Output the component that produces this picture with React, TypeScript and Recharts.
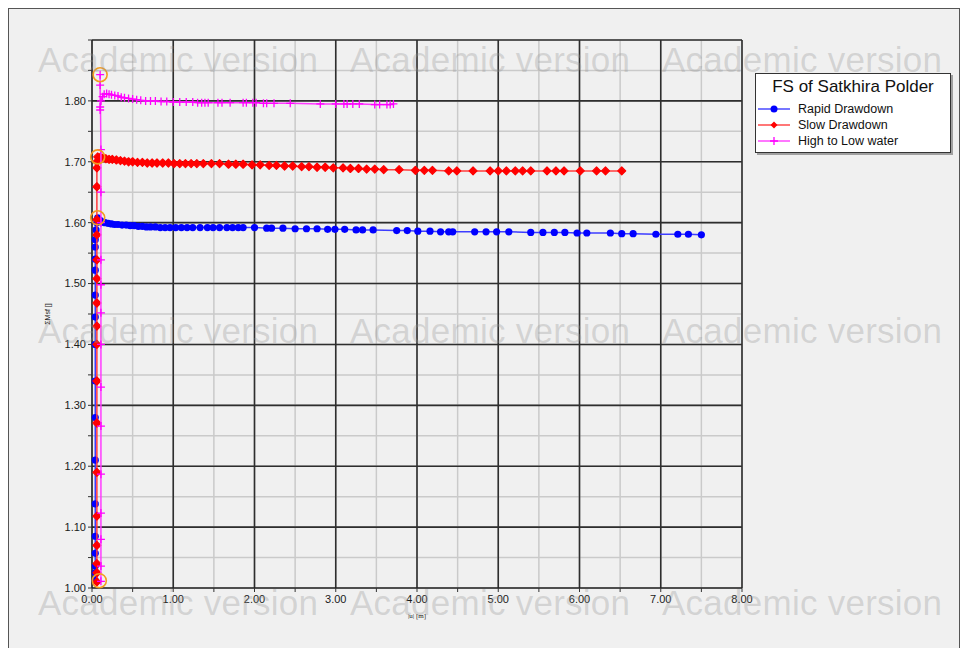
import {
  ScatterChart,
  Scatter,
  XAxis,
  YAxis,
  CartesianGrid,
  ReferenceLine,
} from "recharts";

// [|u| in m, ΣMsf] per calculation step
const rapidDrawdown: [number, number][] = [
  [0.04, 1.012], [0.04, 1.025], [0.04, 1.036], [0.04, 1.057], [0.04, 1.085],
  [0.04, 1.138], [0.04, 1.21], [0.04, 1.28], [0.04, 1.34], [0.04, 1.4],
  [0.04, 1.445], [0.04, 1.481], [0.04, 1.522], [0.04, 1.54], [0.04, 1.56],
  [0.04, 1.572], [0.05, 1.588], [0.06, 1.6], [0.07, 1.608], [0.1, 1.604],
  [0.13, 1.601], [0.16, 1.6], [0.2, 1.599], [0.24, 1.598], [0.28, 1.597],
  [0.32, 1.597], [0.37, 1.596], [0.42, 1.596], [0.47, 1.595], [0.52, 1.595],
  [0.57, 1.594], [0.62, 1.594], [0.67, 1.593], [0.72, 1.593], [0.78, 1.593],
  [0.84, 1.592], [0.9, 1.592], [0.96, 1.592], [1.03, 1.592], [1.1, 1.592],
  [1.17, 1.592], [1.24, 1.592], [1.33, 1.592], [1.42, 1.592], [1.49, 1.592],
  [1.57, 1.592], [1.66, 1.592], [1.73, 1.592], [1.8, 1.592], [1.86, 1.592],
  [2.0, 1.592], [2.15, 1.591], [2.21, 1.591], [2.35, 1.591], [2.5, 1.59],
  [2.64, 1.59], [2.77, 1.59], [2.9, 1.589], [2.99, 1.589], [3.11, 1.589],
  [3.25, 1.588], [3.33, 1.588], [3.46, 1.588], [3.75, 1.587], [3.88, 1.587],
  [4.01, 1.586], [4.16, 1.586], [4.29, 1.585], [4.39, 1.585], [4.44, 1.585],
  [4.71, 1.585], [4.85, 1.585], [4.98, 1.585], [5.13, 1.585], [5.4, 1.584],
  [5.55, 1.584], [5.69, 1.584], [5.82, 1.584], [5.97, 1.583], [6.09, 1.583],
  [6.38, 1.583], [6.52, 1.582], [6.66, 1.582], [6.94, 1.581], [7.21, 1.581],
  [7.34, 1.581], [7.5, 1.58],
];

const slowDrawdown: [number, number][] = [
  [0.06, 1.01], [0.06, 1.025], [0.06, 1.04], [0.06, 1.07], [0.06, 1.118],
  [0.06, 1.19], [0.06, 1.271], [0.06, 1.34], [0.06, 1.4], [0.06, 1.43],
  [0.06, 1.468], [0.06, 1.508], [0.06, 1.539], [0.06, 1.58], [0.06, 1.605],
  [0.06, 1.659], [0.06, 1.69], [0.06, 1.7], [0.07, 1.708], [0.1, 1.707],
  [0.13, 1.706], [0.17, 1.705], [0.21, 1.704], [0.25, 1.704], [0.3, 1.703],
  [0.35, 1.702], [0.4, 1.701], [0.45, 1.7], [0.5, 1.7], [0.56, 1.699],
  [0.62, 1.699], [0.68, 1.698], [0.74, 1.698], [0.8, 1.698], [0.87, 1.698],
  [0.94, 1.698], [1.01, 1.697], [1.08, 1.697], [1.15, 1.697], [1.22, 1.697],
  [1.29, 1.697], [1.37, 1.697], [1.47, 1.697], [1.57, 1.697], [1.68, 1.696],
  [1.77, 1.696], [1.86, 1.696], [1.97, 1.695], [2.07, 1.695], [2.18, 1.694],
  [2.27, 1.694], [2.37, 1.693], [2.47, 1.693], [2.58, 1.692], [2.67, 1.692],
  [2.77, 1.691], [2.87, 1.691], [2.97, 1.69], [3.09, 1.69], [3.18, 1.689],
  [3.28, 1.689], [3.38, 1.688], [3.48, 1.688], [3.59, 1.687], [3.78, 1.687],
  [3.98, 1.686], [4.09, 1.686], [4.19, 1.686], [4.39, 1.685], [4.49, 1.685],
  [4.69, 1.685], [4.9, 1.685], [5.0, 1.685], [5.1, 1.685], [5.21, 1.685],
  [5.3, 1.685], [5.4, 1.685], [5.6, 1.685], [5.71, 1.685], [5.81, 1.685],
  [6.01, 1.685], [6.21, 1.685], [6.32, 1.685], [6.52, 1.685],
];

const highToLow: [number, number][] = [
  [0.11, 1.011], [0.11, 1.036], [0.11, 1.08], [0.11, 1.123], [0.11, 1.187],
  [0.11, 1.266], [0.11, 1.33], [0.11, 1.4], [0.11, 1.452], [0.11, 1.498],
  [0.11, 1.539], [0.11, 1.6], [0.11, 1.65], [0.11, 1.72], [0.1, 1.843],
  [0.1, 1.826], [0.1, 1.79], [0.1, 1.785], [0.11, 1.8], [0.13, 1.807],
  [0.15, 1.811], [0.18, 1.812], [0.21, 1.811], [0.24, 1.81], [0.28, 1.809],
  [0.32, 1.808], [0.36, 1.806], [0.4, 1.805], [0.45, 1.804], [0.5, 1.803],
  [0.55, 1.802], [0.6, 1.801], [0.66, 1.8], [0.72, 1.8], [0.78, 1.8],
  [0.85, 1.799], [0.92, 1.799], [1.0, 1.798], [1.08, 1.798], [1.16, 1.798],
  [1.24, 1.798], [1.3, 1.797], [1.35, 1.797], [1.39, 1.797], [1.43, 1.797],
  [1.55, 1.797], [1.6, 1.797], [1.7, 1.797], [1.86, 1.797], [1.9, 1.797],
  [1.98, 1.797], [2.02, 1.797], [2.11, 1.796], [2.15, 1.796], [2.24, 1.796],
  [2.44, 1.796], [2.81, 1.795], [3.0, 1.795], [3.1, 1.795], [3.14, 1.795],
  [3.21, 1.795], [3.29, 1.795], [3.48, 1.794], [3.54, 1.794], [3.63, 1.794],
  [3.67, 1.794], [3.71, 1.795],
];

// selected points (circled)
const selectedPoints: [number, number][] = [
  [0.1, 1.843], [0.07, 1.708], [0.07, 1.608], [0.09, 1.012],
];

const xTicks = [0, 0.5, 1, 1.5, 2, 2.5, 3, 3.5, 4, 4.5, 5, 5.5, 6, 6.5, 7, 7.5, 8];
const xMajor = [0, 1, 2, 3, 4, 5, 6, 7, 8];
const yTicks = [
  1.0, 1.05, 1.1, 1.15, 1.2, 1.25, 1.3, 1.35, 1.4, 1.45,
  1.5, 1.55, 1.6, 1.65, 1.7, 1.75, 1.8, 1.85, 1.9,
];
const yMajor = [1.1, 1.2, 1.3, 1.4, 1.5, 1.6, 1.7, 1.8, 1.9];
const yLabelled = [1.0, 1.1, 1.2, 1.3, 1.4, 1.5, 1.6, 1.7, 1.8];

const legendTitle = "FS of Satkhira Polder";
const seriesNames = ["Rapid Drawdown", "Slow Drawdown", "High to Low water"];
const watermark = "Academic version";

const toPoints = (arr: [number, number][]) => arr.map(([x, y]) => ({ x, y }));

const BLUE = "#0000ff";
const RED = "#ff0000";
const MAGENTA = "#ff00ff";
const FONT = "Liberation Sans, Arial, sans-serif";

const Dot = (p: any) => <circle cx={p.cx} cy={p.cy} r={3.6} fill={BLUE} />;
const Diamond = (p: any) => (
  <polygon
    points={`${p.cx},${p.cy - 4} ${p.cx + 4},${p.cy} ${p.cx},${p.cy + 4} ${p.cx - 4},${p.cy}`}
    fill={RED}
    stroke={RED}
    strokeWidth={1.2}
    strokeLinejoin="round"
  />
);
const Plus = (p: any) => (
  <path
    d={`M${p.cx - 4},${p.cy}H${p.cx + 4}M${p.cx},${p.cy - 4}V${p.cy + 4}`}
    stroke={MAGENTA}
    strokeWidth={1.3}
  />
);
const Ring = (p: any) => (
  <circle cx={p.cx} cy={p.cy} r={7} fill="none" stroke="#f39c1e" strokeWidth={1.6} />
);

const isIn = (list: number[], v: number) => list.some((m) => Math.abs(m - v) < 1e-6);

const legendRows = [
  { name: seriesNames[0], color: "#4a4aff", mark: "dot" },
  { name: seriesNames[1], color: "#ff4a4a", mark: "diamond" },
  { name: seriesNames[2], color: "#ff4aff", mark: "plus" },
];

const LegendBox = () => (
  <div
    style={{
      position: "absolute",
      left: 746,
      top: 64,
      width: 194,
      height: 78,
      background: "#ffffff",
      border: "1px solid #333",
      boxShadow: "2px 2px 0 #a0a0a0",
      fontFamily: FONT,
      color: "#111",
    }}
  >
    <div style={{ fontSize: 17, textAlign: "center", marginTop: 3, lineHeight: "20px" }}>
      {legendTitle}
    </div>
    {legendRows.map((r, i) => (
      <div key={i} style={{ display: "flex", alignItems: "center", height: 16, marginTop: i === 0 ? 4 : 0 }}>
        <svg width={40} height={16}>
          <line x1={2} y1={8} x2={34} y2={8} stroke={r.color} strokeWidth={1.5} />
          {r.mark === "dot" && <circle cx={18} cy={8} r={3.5} fill={BLUE} />}
          {r.mark === "diamond" && (
            <polygon points="18,4.5 21.5,8 18,11.5 14.5,8" fill={RED} />
          )}
          {r.mark === "plus" && (
            <path d="M14,8H22M18,4V12" stroke={MAGENTA} strokeWidth={1.3} />
          )}
        </svg>
        <span style={{ fontSize: 12.5, marginLeft: 2 }}>{r.name}</span>
      </div>
    ))}
  </div>
);

export default function App() {
  const tickStyle = { fontSize: 11, fill: "#1a1a1a", fontFamily: FONT };

  return (
    <div
      style={{
        position: "fixed",
        left: 8,
        top: 8,
        width: 950,
        height: 660,
        border: "1px solid #555",
        background: "#f0f0f0",
      }}
    >
      <ScatterChart
        width={940}
        height={630}
        margin={{ top: 31, right: 207, bottom: 21, left: 23 }}
      >
        <CartesianGrid stroke="#cacaca" strokeWidth={1.5} />
        {xMajor.slice(1).map((v) => (
          <ReferenceLine key={`vx-${v}`} x={v} stroke="#2e2e2e" strokeWidth={1.6} />
        ))}
        {yMajor.map((v) => (
          <ReferenceLine key={`hy-${v}`} y={v} stroke="#2e2e2e" strokeWidth={1.6} />
        ))}
        <XAxis
          type="number"
          dataKey="x"
          domain={[0, 8]}
          ticks={xTicks}
          interval={0}
          height={30}
          tick={tickStyle}
          tickSize={4}
          tickMargin={3}
          tickLine={{ stroke: "#333" }}
          axisLine={{ stroke: "#222", strokeWidth: 1.6 }}
          tickFormatter={(v: number) => (isIn(xMajor, v) ? v.toFixed(2) : "")}
          label={{ value: "|u| [m]", position: "insideBottom", offset: 0, fontSize: 7, fill: "#222" }}
        />
        <YAxis
          type="number"
          dataKey="y"
          domain={[1.0, 1.9]}
          ticks={yTicks}
          interval={0}
          width={60}
          tick={tickStyle}
          tickSize={4}
          tickMargin={2}
          tickLine={{ stroke: "#333" }}
          axisLine={{ stroke: "#222", strokeWidth: 1.6 }}
          tickFormatter={(v: number) => (isIn(yLabelled, v) ? v.toFixed(2) : "")}
          label={{
            content: ({ viewBox }: any) => {
              const cx = viewBox.x + 18;
              const cy = viewBox.y + viewBox.height / 2;
              return (
                <text
                  x={cx}
                  y={cy}
                  transform={`rotate(-90 ${cx} ${cy})`}
                  textAnchor="middle"
                  fontSize={7}
                  fill="#222"
                  fontFamily={FONT}
                >
                  ΣMsf []
                </text>
              );
            },
          }}
        />
        <Scatter
          name={seriesNames[0]}
          data={toPoints(rapidDrawdown)}
          line={{ stroke: "#3c3cff", strokeWidth: 1.5 }}
          shape={Dot}
          isAnimationActive={false}
        />
        <Scatter
          name={seriesNames[1]}
          data={toPoints(slowDrawdown)}
          line={{ stroke: "#ff3c3c", strokeWidth: 1.5 }}
          shape={Diamond}
          isAnimationActive={false}
        />
        <Scatter
          name={seriesNames[2]}
          data={toPoints(highToLow)}
          line={{ stroke: "#ff3cff", strokeWidth: 1.5 }}
          shape={Plus}
          isAnimationActive={false}
        />
        <Scatter
          data={toPoints(selectedPoints)}
          shape={Ring}
          legendType="none"
          isAnimationActive={false}
        />
      </ScatterChart>
      <LegendBox />
      <svg
        width={950}
        height={640}
        style={{ position: "absolute", left: 0, top: 0, pointerEvents: "none" }}
      >
        {[63, 334, 606].map((y) =>
          [29, 341, 653].map((x) => (
            <text
              key={`${x}-${y}`}
              x={x}
              y={y}
              fontSize={35}
              textLength={280}
              fill="rgba(150,150,150,0.32)"
              fontFamily={FONT}
            >
              {watermark}
            </text>
          ))
        )}
      </svg>
    </div>
  );
}
